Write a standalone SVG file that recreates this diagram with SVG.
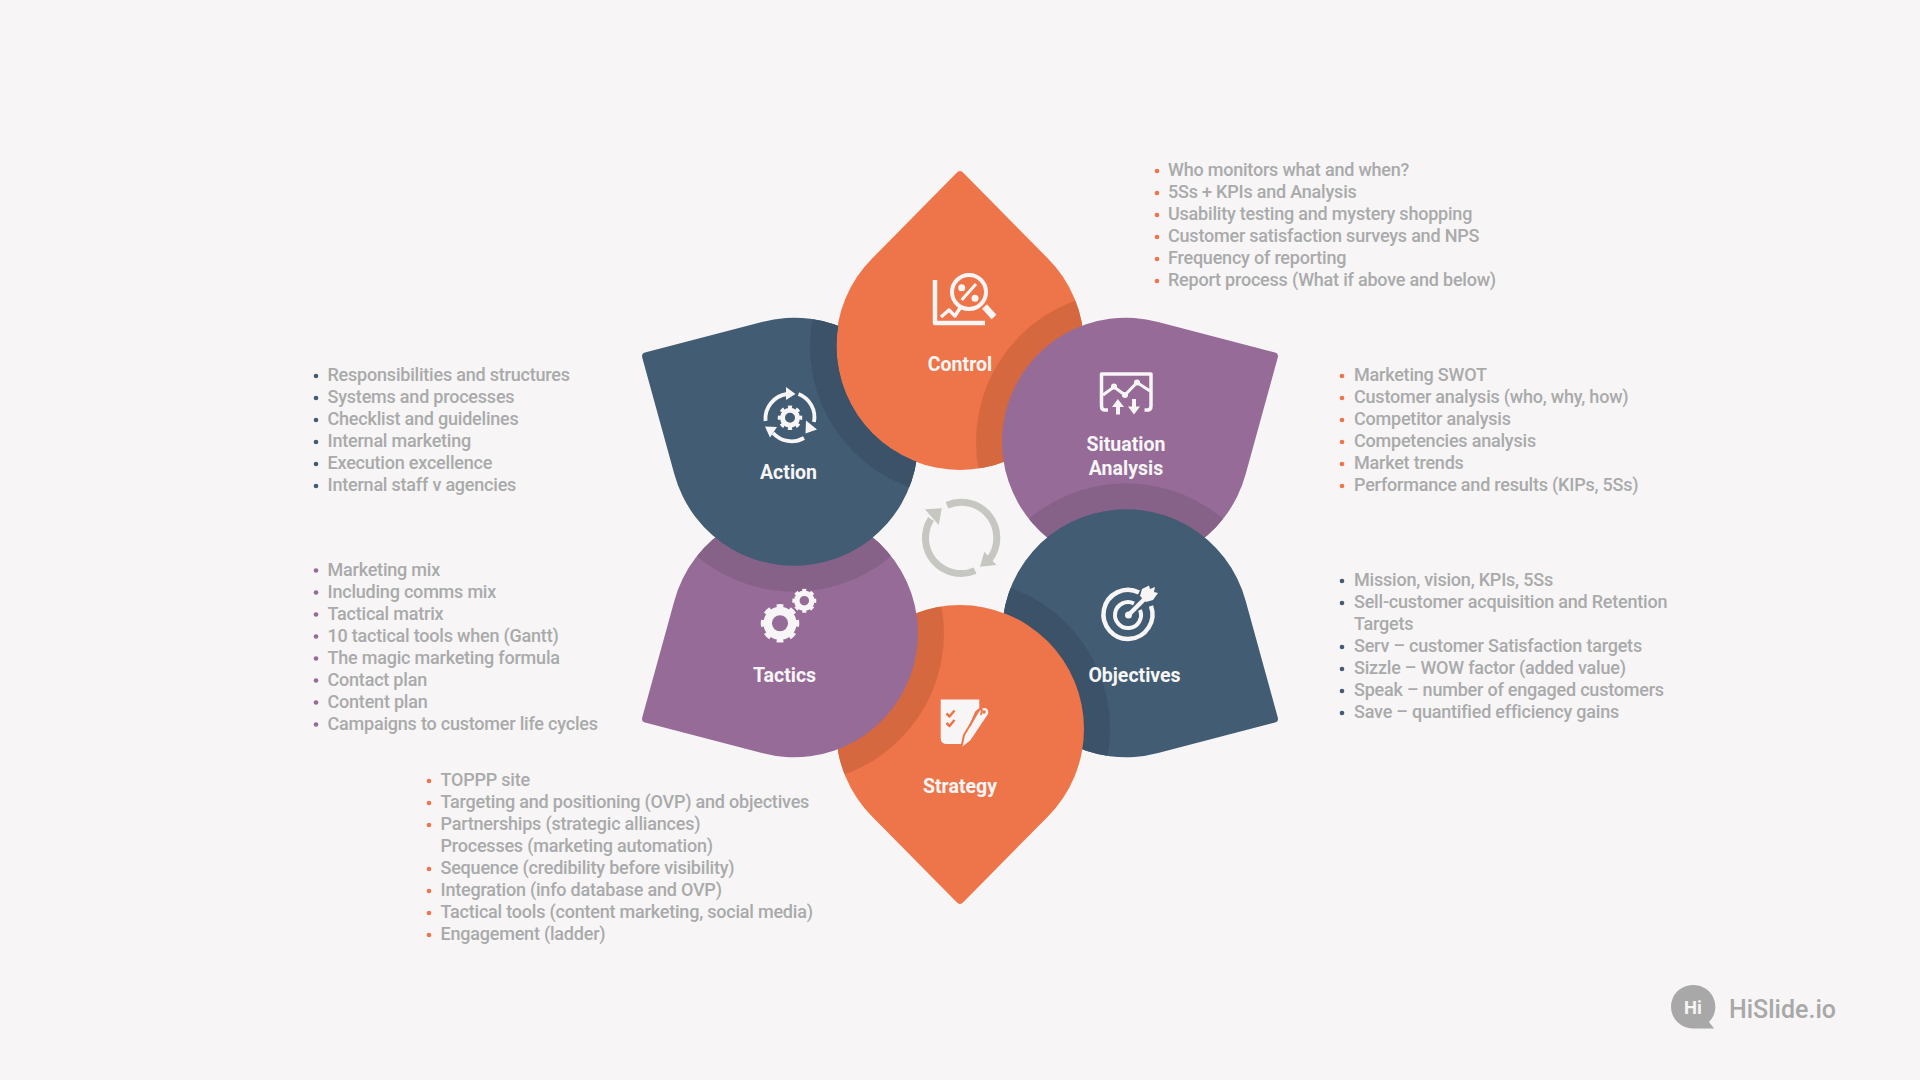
<svg xmlns="http://www.w3.org/2000/svg" xmlns:xlink="http://www.w3.org/1999/xlink" width="1920" height="1080" viewBox="0 0 1920 1080">
<style>
.t{font-family:Roboto,"Liberation Sans",sans-serif;font-weight:500;font-size:18px;letter-spacing:-.21px;fill:#a9aaaa}
.l{font-family:Roboto,"Liberation Sans",sans-serif;font-weight:700;font-size:19.5px;fill:#f7f5f6;text-anchor:middle}
.w{fill:none;stroke:#f7f5f6;stroke-linecap:butt;stroke-linejoin:round}
.f{fill:#f7f5f6}
.or{fill:#ee7549}.orb{fill:#d66840}
.pu{fill:#966b97}.pub{fill:#866188}
.na{fill:#415c73}.nab{fill:#3b5268}
.bo{fill:#ee7549}.bp{fill:#966b97}.bn{fill:#415c73}
</style>
<defs>
<path id="drop" d="M-87.68-87.68L-3.5-173Q0-177 3.5-173L87.68-87.68A124 124 0 1 1-87.68-87.68Z"/>
<clipPath id="cC"><use href="#drop" transform="translate(960 346)"/></clipPath>
<clipPath id="cS"><use href="#drop" transform="translate(1126 441.75) rotate(60)"/></clipPath>
<clipPath id="cO"><use href="#drop" transform="translate(1126 633.25) rotate(120)"/></clipPath>
<clipPath id="cG"><use href="#drop" transform="translate(960 729) rotate(180)"/></clipPath>
<clipPath id="cT"><use href="#drop" transform="translate(794 633.25) rotate(240)"/></clipPath>
<clipPath id="cA"><use href="#drop" transform="translate(794 441.75) rotate(300)"/></clipPath>
<clipPath id="xC"><path clip-rule="evenodd" d="M0 0H1920V1080H0ZM836.5 346a123.5 123.5 0 1 0 247 0a123.5 123.5 0 1 0-247 0Z"/></clipPath>
</defs>
<rect width="1920" height="1080" fill="#f7f5f6"/>

<g id="node-control">
<use href="#drop" class="or" transform="translate(960 346)"/>
<circle class="orb" cx="1126" cy="441.75" r="150" clip-path="url(#cC)"/>
<g id="icon-control">
<path class="w" stroke-width="4.5" d="M935 280V323H985"/>
<path class="w" stroke-width="3.5" d="M941 317L949 310L955 316L960 308"/>
<circle class="w" stroke-width="4" cx="969" cy="292" r="17"/>
<path class="w" stroke-width="6.5" d="M984.5 306.5L994 317"/>
<path class="w" stroke-width="3" d="M961.7 300L976 284"/>
<circle class="f" cx="961.7" cy="287.7" r="3.5"/><circle class="f" cx="975" cy="298.3" r="3.5"/>
</g>
<text class="l" x="960" y="371">Control</text>
</g>

<g id="node-situation">
<use href="#drop" class="pu" transform="translate(1126 441.75) rotate(60)"/>
<circle class="pub" cx="1126" cy="633.25" r="150" clip-path="url(#cS)"/>
<g id="icon-situation">
<path class="w" stroke-width="3.5" d="M1108 410H1105Q1101.5 410 1101.5 406V374H1151V406Q1151 410 1147.5 410H1144.5"/>
<path class="w" stroke-width="3" d="M1103 395L1114 387L1125 395L1137 382.5L1150 391"/>
<circle class="f" cx="1114" cy="386.5" r="3"/><circle class="f" cx="1125" cy="395" r="3"/><circle class="f" cx="1137" cy="382.5" r="3"/>
<path class="f" d="M1117.800 399L1124 407H1120V414.500H1116V407H1112ZM1134 414.500L1128 406.500H1132V399H1136V406.500H1140Z"/>
</g>
<text class="l" x="1126" y="451">Situation</text>
<text class="l" x="1126" y="475">Analysis</text>
</g>

<g id="node-objectives">
<use href="#drop" class="na" transform="translate(1126 633.25) rotate(120)"/>
<circle class="nab" cx="960" cy="729" r="150" clip-path="url(#cO)"/>
<g id="icon-objectives">
<path class="w" stroke-width="4.500" d="M1139 592.500A24.500 24.500 0 1 0 1151 606"/>
<path class="w" stroke-width="4" d="M1134 603.500A13 13 0 1 0 1140 610"/>
<circle class="f" cx="1128.500" cy="615" r="3.500"/>
<path class="w" stroke-width="4.500" d="M1128.500 615L1146 597.500"/>
<path class="f" d="M1140 596L1142 589L1149 585.500L1150 589L1155 587L1154 592L1158 593L1153 600L1146 602Z"/>
</g>
<text class="l" x="1134.500" y="682">Objectives</text>
</g>

<g id="node-strategy">
<use href="#drop" class="or" transform="translate(960 729) rotate(180)"/>
<circle class="orb" cx="794" cy="633.25" r="150" clip-path="url(#cG)"/>
<g id="icon-strategy">
<path class="f" d="M940.700 699.500H979.300V722L962 744H947Q940.700 744 940.700 738Z"/>
<path fill="none" stroke="#ee7549" stroke-width="2.500" stroke-linejoin="round" d="M946.500 713.500L949.500 716.500L954.500 710.500M946.500 723L949.500 726L954.500 720"/>
<path fill="#f7f5f6" stroke="#ee7549" stroke-width="2" d="M961 749L964 735L979 710Q983 705 987.500 708Q990.500 711 988.500 715L971 741Z"/>
<path fill="none" stroke="#ee7549" stroke-width="1.800" d="M970 726L976 712Q979 708 982 710L981 715"/>
<circle cx="984" cy="712" r="1.800" fill="#ee7549"/>
</g>
<text class="l" x="960" y="793">Strategy</text>
</g>

<g id="node-tactics">
<use href="#drop" class="pu" transform="translate(794 633.25) rotate(240)"/>
<circle class="pub" cx="794" cy="441.75" r="150" clip-path="url(#cT)"/>
<g id="icon-tactics">
<circle class="w" stroke-width="8.500" cx="780" cy="623.300" r="12.300"/>
<circle class="w" stroke-width="4.500" cx="780" cy="623.300" r="17" pathLength="16" stroke-dasharray="1 1" stroke-dashoffset="0.500"/>
<circle class="w" stroke-width="5.500" cx="804.300" cy="600.700" r="7.500"/>
<circle class="w" stroke-width="3" cx="804.300" cy="600.700" r="10.500" pathLength="16" stroke-dasharray="1 1" stroke-dashoffset="0.500"/>
</g>
<text class="l" x="784.500" y="682">Tactics</text>
</g>

<g id="node-action" clip-path="url(#xC)">
<use href="#drop" class="na" transform="translate(794 441.75) rotate(300)"/>
<circle class="nab" cx="960" cy="346" r="150" clip-path="url(#cA)"/>
<g id="icon-action">
<circle class="w" stroke-width="5" cx="790" cy="417.700" r="7.500"/>
<circle class="w" stroke-width="3.500" cx="790" cy="417.700" r="10.500" pathLength="16" stroke-dasharray="1 1" stroke-dashoffset="0.500"/>
<path class="w" stroke-width="3.800" d="M765.500 421A25 25 0 0 1 787 394"/>
<path class="f" d="M786 387L795.500 394L786 400Z"/>
<path class="w" stroke-width="3.800" d="M798.500 394A25 25 0 0 1 814 422"/>
<path class="f" d="M806 420.500L817 429.500L805.500 433.500Z"/>
<path class="w" stroke-width="3.800" d="M804 438A25 25 0 0 1 773 433"/>
<path class="f" d="M765 426.500L777 427L770 437.500Z"/>
</g>
<text class="l" x="788.500" y="479">Action</text>
</g>

<g id="cycle" fill="none" stroke="#c6c7c0" stroke-width="7">
<path d="M947 505.300A35.500 35.500 0 0 1 989 560"/>
<path d="M975.100 570.600A35.500 35.500 0 0 1 931 519"/>
<path stroke="none" fill="#c6c7c0" d="M980 566.700L996.400 565L984.300 551.700ZM924.900 509.300L941.800 508.300L938.700 525Z"/>
</g>

<g id="list-control">
<g class="bo"><circle cx="1157" cy="171" r="2.300"/><circle cx="1157" cy="193" r="2.300"/><circle cx="1157" cy="215" r="2.300"/><circle cx="1157" cy="237" r="2.300"/><circle cx="1157" cy="259" r="2.300"/><circle cx="1157" cy="281" r="2.300"/></g>
<text class="t" x="1168" y="176">Who monitors what and when?</text>
<text class="t" x="1168" y="198">5Ss + KPIs and Analysis</text>
<text class="t" x="1168" y="220">Usability testing and mystery shopping</text>
<text class="t" x="1168" y="242">Customer satisfaction surveys and NPS</text>
<text class="t" x="1168" y="264">Frequency of reporting</text>
<text class="t" x="1168" y="286">Report process (What if above and below)</text>
</g>
<g id="list-situation">
<g class="bo"><circle cx="1342" cy="376" r="2.300"/><circle cx="1342" cy="398" r="2.300"/><circle cx="1342" cy="420" r="2.300"/><circle cx="1342" cy="442" r="2.300"/><circle cx="1342" cy="464" r="2.300"/><circle cx="1342" cy="486" r="2.300"/></g>
<text class="t" x="1354" y="381">Marketing SWOT</text>
<text class="t" x="1354" y="403">Customer analysis (who, why, how)</text>
<text class="t" x="1354" y="425">Competitor analysis</text>
<text class="t" x="1354" y="447">Competencies analysis</text>
<text class="t" x="1354" y="469">Market trends</text>
<text class="t" x="1354" y="491">Performance and results (KIPs, 5Ss)</text>
</g>
<g id="list-objectives">
<g class="bn"><circle cx="1342" cy="581" r="2.300"/><circle cx="1342" cy="603" r="2.300"/><circle cx="1342" cy="647" r="2.300"/><circle cx="1342" cy="669" r="2.300"/><circle cx="1342" cy="691" r="2.300"/><circle cx="1342" cy="713" r="2.300"/></g>
<text class="t" x="1354" y="586">Mission, vision, KPIs, 5Ss</text>
<text class="t" x="1354" y="608">Sell-customer acquisition and Retention</text>
<text class="t" x="1354" y="630">Targets</text>
<text class="t" x="1354" y="652">Serv – customer Satisfaction targets</text>
<text class="t" x="1354" y="674">Sizzle – WOW factor (added value)</text>
<text class="t" x="1354" y="696">Speak – number of engaged customers</text>
<text class="t" x="1354" y="718">Save – quantified efficiency gains</text>
</g>
<g id="list-action">
<g class="bn"><circle cx="316" cy="376" r="2.300"/><circle cx="316" cy="398" r="2.300"/><circle cx="316" cy="420" r="2.300"/><circle cx="316" cy="442" r="2.300"/><circle cx="316" cy="464" r="2.300"/><circle cx="316" cy="486" r="2.300"/></g>
<text class="t" x="327.500" y="381">Responsibilities and structures</text>
<text class="t" x="327.500" y="403">Systems and processes</text>
<text class="t" x="327.500" y="425">Checklist and guidelines</text>
<text class="t" x="327.500" y="447">Internal marketing</text>
<text class="t" x="327.500" y="469">Execution excellence</text>
<text class="t" x="327.500" y="491">Internal staff v agencies</text>
</g>
<g id="list-tactics">
<g class="bp"><circle cx="316" cy="570.500" r="2.300"/><circle cx="316" cy="592.500" r="2.300"/><circle cx="316" cy="614.500" r="2.300"/><circle cx="316" cy="636.500" r="2.300"/><circle cx="316" cy="658.500" r="2.300"/><circle cx="316" cy="680.500" r="2.300"/><circle cx="316" cy="702.500" r="2.300"/><circle cx="316" cy="724.500" r="2.300"/></g>
<text class="t" x="327.500" y="575.500">Marketing mix</text>
<text class="t" x="327.500" y="597.500">Including comms mix</text>
<text class="t" x="327.500" y="619.500">Tactical matrix</text>
<text class="t" x="327.500" y="641.500">10 tactical tools when (Gantt)</text>
<text class="t" x="327.500" y="663.500">The magic marketing formula</text>
<text class="t" x="327.500" y="685.500">Contact plan</text>
<text class="t" x="327.500" y="707.500">Content plan</text>
<text class="t" x="327.500" y="729.500">Campaigns to customer life cycles</text>
</g>
<g id="list-strategy">
<g class="bo"><circle cx="429" cy="781" r="2.300"/><circle cx="429" cy="803" r="2.300"/><circle cx="429" cy="825" r="2.300"/><circle cx="429" cy="869" r="2.300"/><circle cx="429" cy="891" r="2.300"/><circle cx="429" cy="913" r="2.300"/><circle cx="429" cy="935" r="2.300"/></g>
<text class="t" x="440.500" y="786">TOPPP site</text>
<text class="t" x="440.500" y="808">Targeting and positioning (OVP) and objectives</text>
<text class="t" x="440.500" y="830">Partnerships (strategic alliances)</text>
<text class="t" x="440.500" y="852">Processes (marketing automation)</text>
<text class="t" x="440.500" y="874">Sequence (credibility before visibility)</text>
<text class="t" x="440.500" y="896">Integration (info database and OVP)</text>
<text class="t" x="440.500" y="918">Tactical tools (content marketing, social media)</text>
<text class="t" x="440.500" y="940">Engagement (ladder)</text>
</g>

<g id="logo">
<path fill="#a8a8a8" d="M1692.700 985A21.700 21.700 0 1 0 1692.700 1028.400H1714L1709 1022A21.700 21.700 0 0 0 1692.700 985Z"/>
<text x="1693" y="1014" text-anchor="middle" font-family="Roboto,sans-serif" font-weight="700" font-size="18.500" fill="#f7f5f6">Hi</text>
<text x="1729" y="1018" font-family="Roboto,sans-serif" font-weight="500" font-size="25" fill="#a8a8a8">HiSlide.io</text>
</g>
</svg>
